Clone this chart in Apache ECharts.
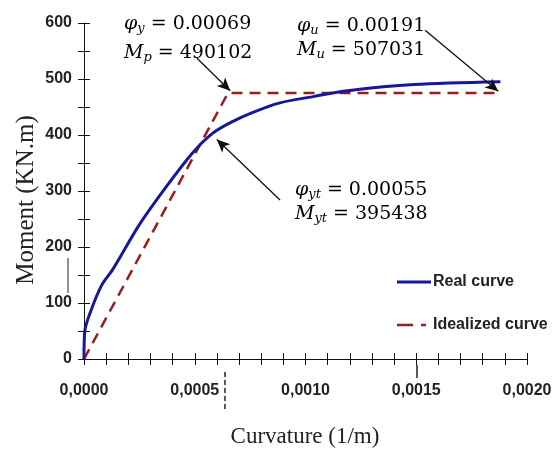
<!DOCTYPE html>
<html>
<head>
<meta charset="utf-8">
<script src="https://cdn.jsdelivr.net/npm/echarts@6/dist/echarts.min.js"></script>
<style>
  html, body { margin: 0; padding: 0; background: #fff; }
  #chart { width: 560px; height: 452px; }
</style>
</head>
<body>
<div id="chart"></div>
<script>
  // real moment-curvature curve
  const realCurvature = [0, 0.000003, 0.00003, 0.00008, 0.00013, 0.00025, 0.00037, 0.00049, 0.00058, 0.00067, 0.00076, 0.00088, 0.00104, 0.00119, 0.00149, 0.00188]
  const realMoment = [0, 48, 85, 132, 160, 240, 307, 368, 403, 424, 440, 457, 469, 479, 490, 495]
  // idealized bilinear curve
  const idealCurvature = [0, 0.00065, 0.00188]
  const idealMoment = [0, 475, 475]
  // annotation arrows: [tailX, tailY, headX, headY]
  const arrows = [
    [0.00051, 537, 0.00066, 479],
    [0.00154, 587, 0.00187, 478],
    [0.000885, 284, 0.0006, 392]
  ]
  const legendNames = ['Real curve', 'Idealized curve']

  const tickFont = '"Liberation Sans Narrow", "Liberation Sans", Arial, sans-serif'
  const serif = '"Liberation Serif", "Times New Roman", serif'
  const mathFont = '"DejaVu Serif", serif'
  const realColor = '#17179a'
  const idealColor = '#9e1b1b'

  const chart = echarts.init(document.getElementById('chart'))

  const mathRich = {
    i: { fontFamily: mathFont, fontStyle: 'italic', fontSize: 19, color: '#222' },
    s: { fontFamily: mathFont, fontStyle: 'italic', fontSize: 13, color: '#222', padding: [8, 0, 0, 0] },
    n: { fontFamily: mathFont, fontSize: 19, color: '#222' }
  }
  function mathText(x, y, sym, sub, val) {
    return {
      type: 'text', left: x, top: y,
      style: { text: '{i|' + sym + '}{s|' + sub + '}{n| = ' + val + '}', rich: mathRich }
    }
  }

  const xTickFmt = v => (Math.round(v * 10000) % 5 === 0 ? v.toFixed(4).replace('.', ',') : '')
  const yTickFmt = v => (v % 100 === 0 ? String(v) : '')

  const plotRect = { left: 84, top: 23, right: 33, bottom: 93 }
  const hidden = { show: false }

  const option = {
    backgroundColor: '#fff',
    animation: false,
    // second grid on the same rect only carries the inward half of the ticks
    grid: [plotRect, plotRect],
    xAxis: [{
      type: 'value', min: 0, max: 0.002, interval: 0.0001,
      axisLine: { lineStyle: { color: '#111', width: 1 } },
      axisTick: { show: true, length: 6, lineStyle: { color: '#111' } },
      axisLabel: { formatter: xTickFmt, color: '#222', fontFamily: tickFont, fontWeight: 'bold', fontSize: 16, margin: 24 },
      splitLine: hidden
    }, {
      gridIndex: 1, type: 'value', min: 0, max: 0.002, interval: 0.0001,
      axisLine: hidden,
      axisTick: { show: true, inside: true, length: 6, lineStyle: { color: '#111' } },
      axisLabel: hidden, splitLine: hidden
    }],
    yAxis: [{
      type: 'value', min: 0, max: 600, interval: 50,
      axisLine: { show: true, lineStyle: { color: '#111', width: 1 } },
      axisTick: { show: true, length: 6, lineStyle: { color: '#111' } },
      axisLabel: { formatter: yTickFmt, color: '#222', fontFamily: tickFont, fontWeight: 'bold', fontSize: 16, margin: 12 },
      splitLine: hidden
    }, {
      gridIndex: 1, type: 'value', min: 0, max: 600, interval: 50,
      axisLine: hidden,
      axisTick: { show: true, inside: true, length: 6, lineStyle: { color: '#111' } },
      axisLabel: hidden, splitLine: hidden
    }],
    series: [{
      name: legendNames[0], type: 'line', symbol: 'none', smooth: 0.3,
      data: realCurvature.map((c, i) => [c, realMoment[i]]),
      lineStyle: { color: realColor, width: 3 },
      z: 3
    }, {
      name: legendNames[1], type: 'line', symbol: 'none',
      data: idealCurvature.map((c, i) => [c, idealMoment[i]]),
      lineStyle: { color: idealColor, width: 2.5, type: [11, 7] },
      z: 2
    }, {
      type: 'line', data: [], silent: true,
      markLine: {
        silent: true, symbol: ['none', 'arrow'], symbolSize: [9, 13],
        label: { show: false },
        lineStyle: { color: '#111', width: 1.3, type: 'solid' },
        data: arrows.map(a => [{ coord: [a[0], a[1]] }, { coord: [a[2], a[3]] }])
      },
      z: 4
    }],
    graphic: [
      mathText(124, 15, 'φ', 'y', '0.00069'),
      mathText(124, 44, 'M', 'p', '490102'),
      mathText(297, 17, 'φ', 'u', '0.00191'),
      mathText(297, 41, 'M', 'u', '507031'),
      mathText(295, 181, 'φ', 'yt', '0.00055'),
      mathText(295, 205, 'M', 'yt', '395438'),
      {
        type: 'text', x: 26, y: 200, rotation: Math.PI / 2,
        style: { text: 'Moment (KN.m)', fontFamily: serif, fontSize: 25, fill: '#222', align: 'center', verticalAlign: 'middle' }
      },
      {
        type: 'text', x: 305, y: 437,
        style: { text: 'Curvature (1/m)', fontFamily: serif, fontSize: 23, fill: '#222', align: 'center', verticalAlign: 'middle' }
      },
      // legend
      { type: 'line', shape: { x1: 397, y1: 282, x2: 431, y2: 282 }, style: { stroke: realColor, lineWidth: 3 } },
      { type: 'text', x: 433, y: 282, style: { text: legendNames[0], fontFamily: tickFont, fontWeight: 'bold', fontSize: 16, fill: '#222', verticalAlign: 'middle' } },
      { type: 'line', shape: { x1: 397, y1: 325, x2: 426, y2: 325 }, style: { stroke: idealColor, lineWidth: 2.5, lineDash: [16, 8] } },
      { type: 'text', x: 433, y: 325, style: { text: legendNames[1], fontFamily: tickFont, fontWeight: 'bold', fontSize: 16, fill: '#222', verticalAlign: 'middle' } },
      // stray marks below the axis
      { type: 'line', shape: { x1: 225, y1: 372, x2: 225, y2: 410 }, style: { stroke: '#222', lineWidth: 1.5, lineDash: [5, 3] } },
      { type: 'line', shape: { x1: 417, y1: 365, x2: 417, y2: 378 }, style: { stroke: '#222', lineWidth: 1.5 } },
      { type: 'line', shape: { x1: 68, y1: 258, x2: 68, y2: 293 }, style: { stroke: '#222', lineWidth: 1 } }
    ]
  }
  chart.setOption(option)
</script>
</body>
</html>
